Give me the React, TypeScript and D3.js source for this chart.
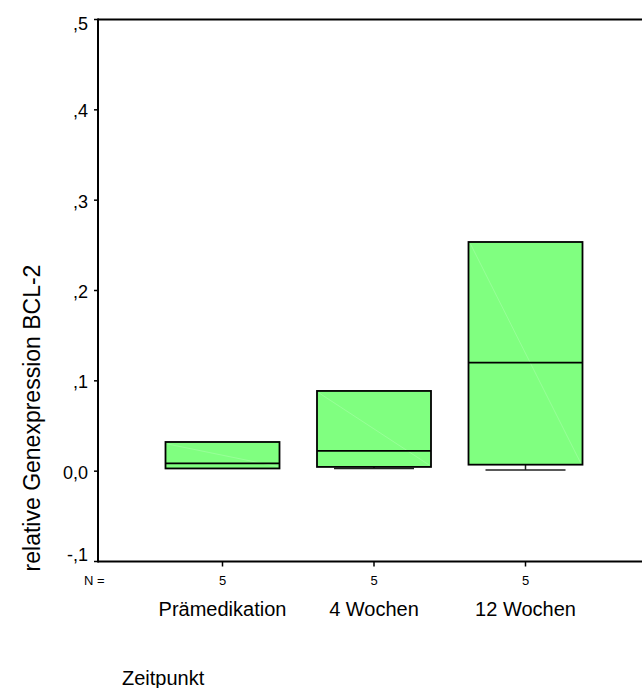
import React from "react";
import * as d3 from "d3";

// Zeitpunkte und Boxplot-Kennwerte (relative Genexpression BCL-2)
const categories = ["Prämedikation", "4 Wochen", "12 Wochen"];
const counts = [5, 5, 5];
const whiskerLow = [0.003, 0.003, 0.0013];
const q1 = [0.003, 0.0047, 0.0072];
const median = [0.0087, 0.0224, 0.1201];
const q3 = [0.0323, 0.0888, 0.2537];
const whiskerHigh = [0.0323, 0.0888, 0.2537];
const yTicks = [-0.1, 0, 0.1, 0.2, 0.3, 0.4, 0.5];
const yTickLabels = ["-,1", "0,0", ",1", ",2", ",3", ",4", ",5"];

const W = 642;
const H = 688;
const left = 98;
const top = 19.5;
const bottom = 561.5;
const font = "'Liberation Sans', Arial, sans-serif";

export default function App() {
  const y = d3.scaleLinear().domain([-0.1, 0.5]).range([bottom, top]);
  const x = d3.scalePoint<string>().domain(categories).range([222.5, 525.5]);
  const boxW = 114;
  const capW = 80;

  return (
    <svg
      width={W}
      height={H}
      style={{ position: "absolute", left: 0, top: 0, background: "#fff" }}
    >
      {/* boxes */}
      {categories.map((c, i) => {
        const cx = x(c)!;
        const x0 = cx - boxW / 2;
        const yTop = y(q3[i]);
        const yBot = y(q1[i]);
        return (
          <g key={c}>
            {whiskerLow[i] < q1[i] && (
              <g stroke="#222" strokeWidth={1.5}>
                <line x1={cx} x2={cx} y1={yBot} y2={y(whiskerLow[i])} />
                <line x1={cx - capW / 2} x2={cx + capW / 2} y1={y(whiskerLow[i])} y2={y(whiskerLow[i])} />
              </g>
            )}
            {whiskerHigh[i] > q3[i] && (
              <g stroke="#222" strokeWidth={1.5}>
                <line x1={cx} x2={cx} y1={yTop} y2={y(whiskerHigh[i])} />
                <line x1={cx - capW / 2} x2={cx + capW / 2} y1={y(whiskerHigh[i])} y2={y(whiskerHigh[i])} />
              </g>
            )}
            <rect x={x0} y={yTop} width={boxW} height={yBot - yTop} fill="#80ff80" stroke="none" />
            <line x1={x0 + 2} y1={yTop + 2} x2={x0 + boxW - 2} y2={yBot - 2} stroke="#9dff9d" strokeWidth={0.8} />
            <rect x={x0} y={yTop} width={boxW} height={yBot - yTop} fill="none" stroke="#000" strokeWidth={1.8} />
            <line x1={x0} x2={x0 + boxW} y1={y(median[i])} y2={y(median[i])} stroke="#000" strokeWidth={1.8} />
          </g>
        );
      })}

      {/* frame */}
      <g stroke="#000" strokeWidth={2} fill="none">
        <line x1={left} x2={W} y1={top} y2={top} />
        <line x1={left} x2={W} y1={bottom} y2={bottom} />
        <line x1={left} x2={left} y1={top - 1} y2={bottom + 1} />
      </g>

      {/* y ticks */}
      {yTicks.map((t, i) => {
        const ty = y(t);
        const base = i === 0 ? ty - 1 : i === yTicks.length - 1 ? ty + 10 : ty + 7.5;
        return (
          <g key={t}>
            <line x1={left - 4} x2={left} y1={ty} y2={ty} stroke="#000" strokeWidth={1.5} />
            <text x={88} y={base} textAnchor="end" fontFamily={font} fontSize={18} fill="#000">
              {yTickLabels[i]}
            </text>
          </g>
        );
      })}

      {/* x ticks, N row and category labels */}
      <text x={84} y={585} fontFamily={font} fontSize={13} fill="#000">N =</text>
      {categories.map((c, i) => (
        <g key={c}>
          <line x1={x(c)!} x2={x(c)!} y1={bottom} y2={bottom + 5} stroke="#000" strokeWidth={1.5} />
          <text x={x(c)!} y={585} textAnchor="middle" fontFamily={font} fontSize={13} fill="#000">
            {counts[i]}
          </text>
          <text x={x(c)!} y={616} textAnchor="middle" fontFamily={font} fontSize={20} fill="#000">
            {c}
          </text>
        </g>
      ))}

      {/* axis titles */}
      <text x={122} y={685} fontFamily={font} fontSize={20} fill="#000">Zeitpunkt</text>
      <text
        transform={`translate(40, 418) rotate(-90)`}
        textAnchor="middle"
        fontFamily={font}
        fontSize={23}
        fill="#000"
      >
        relative Genexpression BCL-2
      </text>
    </svg>
  );
}
